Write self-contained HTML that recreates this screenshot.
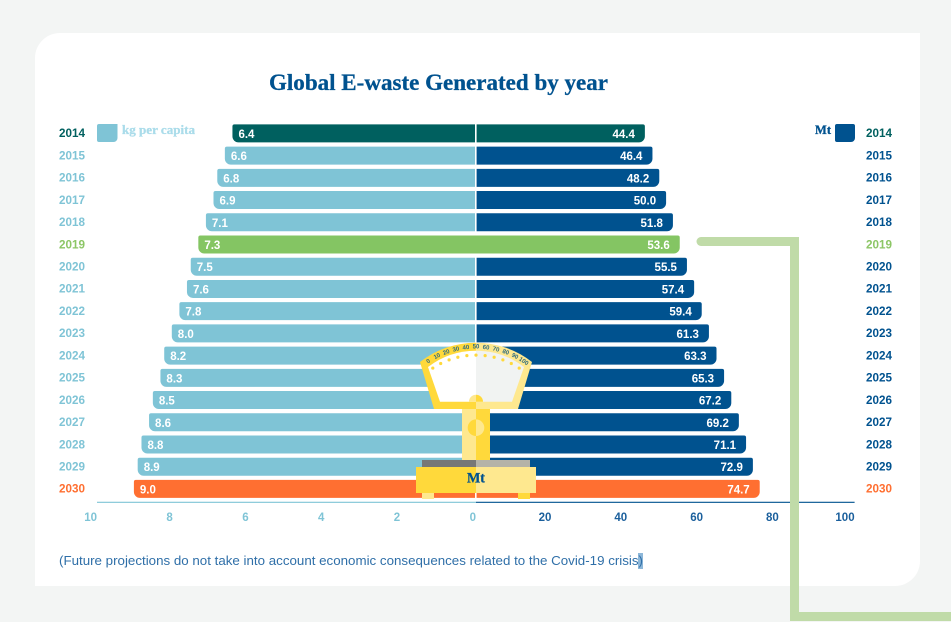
<!DOCTYPE html>
<html lang="en">
<head>
<meta charset="utf-8">
<title>Global E-waste Generated by year</title>
<style>
html,body{margin:0;padding:0;background:#f3f5f4;}
svg{display:block;}
text{font-family:"Liberation Sans",sans-serif;}
.slab{font-family:"Liberation Serif",serif;font-weight:bold;stroke-width:.3px;}
.num{font-family:"Liberation Sans",sans-serif;font-weight:bold;}
</style>
</head>
<body>
<svg id="chart" xmlns="http://www.w3.org/2000/svg" width="951" height="622" viewBox="0 0 951 622">
  <path d="M60,33 H920 V561 A25,25 0 0 1 895,586 H35 V58 A25,25 0 0 1 60,33 Z" fill="#ffffff"/>
  <text class="slab" x="269" y="90" font-size="23.500" fill="#00528f" stroke="#00528f" textLength="339" lengthAdjust="spacingAndGlyphs">Global E-waste Generated by year</text>
  <path d="M97,126 a2,2 0 0 1 2,-2 H117.500 V138 a4,4 0 0 1 -4,4 H99 a2,2 0 0 1 -2,-2 Z" fill="#7fc4d6"/>
  <text class="slab" x="122" y="134" font-size="12.500" fill="#aadcea" stroke="#aadcea" textLength="73" lengthAdjust="spacingAndGlyphs">kg per capita</text>
  <text class="slab" x="815" y="134" font-size="12.500" fill="#00528f" stroke="#00528f" textLength="16" lengthAdjust="spacingAndGlyphs">Mt</text>
  <path d="M835,126 a2,2 0 0 1 2,-2 H853 a2,2 0 0 1 2,2 V138 a4,4 0 0 1 -4,4 H837 a2,2 0 0 1 -2,-2 Z" fill="#00528f"/>
  <g id="rows"></g>
  <g id="axis"></g>
  <g>
    <path d="M476,342.700 A90.900,90.900 0 0 0 420,362 L434,409 H476 Z" fill="#ffd93b"/>
    <path d="M476,342.700 A90.900,90.900 0 0 1 532,362 L518,409 H476 Z" fill="#fee88f"/>
    <path d="M476,350.700 A78.800,78.800 0 0 0 428,367 L440,401.700 H476 Z" fill="#ffffff"/>
    <path d="M476,350.700 A78.800,78.800 0 0 1 524,367 L512,401.700 H476 Z" fill="#f1f3f2"/>
    <path d="M469,401.700 A7,7 0 0 1 476,394.700 V401.700 Z" fill="#fee88f"/>
    <path d="M476,394.700 A7,7 0 0 1 483,401.700 H476 Z" fill="#ffd93b"/>
    <g id="dial"></g>
    <rect x="462" y="409" width="14" height="51" fill="#fee88f"/>
    <rect x="476" y="409" width="14" height="51" fill="#ffd93b"/>
    <path d="M476,419.400 A8.300,8.300 0 0 0 476,436 Z" fill="#ffd93b"/>
    <path d="M476,419.400 A8.300,8.300 0 0 1 476,436 Z" fill="#fee88f"/>
    <rect x="422" y="460" width="54" height="7" fill="#777777"/>
    <rect x="476" y="460" width="54" height="7" fill="#b5b3a8"/>
    <rect x="422" y="493" width="12" height="6" fill="#fee88f"/>
    <rect x="518" y="493" width="12" height="6" fill="#ffd93b"/>
    <rect x="416" y="467" width="60" height="26" fill="#ffd93b"/>
    <rect x="476" y="467" width="60" height="26" fill="#fee88f"/>
    <text class="slab" x="467" y="482.500" font-size="15" fill="#00528f" stroke="#00528f" textLength="18" lengthAdjust="spacingAndGlyphs">Mt</text>
  </g>
  <path d="M701,241.500 H794.500 V616.500 H951" fill="none" stroke="#c0dba8" stroke-width="9"/>
  <circle cx="701" cy="241.500" r="4.500" fill="#c0dba8"/>
  <rect x="638" y="553" width="5" height="16" fill="#8db7d9"/>
  <text x="59" y="565" font-size="13" fill="#2f6fa8" textLength="584" lengthAdjust="spacingAndGlyphs">(Future projections do not take into account economic consequences related to the Covid-19 crisis)</text>
</svg>
<script>
const years = ['2014','2015','2016','2017','2018','2019','2020','2021','2022','2023','2024','2025','2026','2027','2028','2029','2030'];
const kgPerCapita = [6.4,6.6,6.8,6.9,7.1,7.3,7.5,7.6,7.8,8.0,8.2,8.3,8.5,8.6,8.8,8.9,9.0];
const megatonnes = [44.4,46.4,48.2,50.0,51.8,53.6,55.5,57.4,59.4,61.3,63.3,65.3,67.2,69.2,71.1,72.9,74.7];
const kgTicks = [10,8,6,4,2,0];
const mtTicks = [20,40,60,80,100];
const dialLabels = ['0','10','20','30','40','50','60','70','80','90','100'];

const NS = 'http://www.w3.org/2000/svg';
const rows = document.getElementById('rows');
const axis = document.getElementById('axis');
const dial = document.getElementById('dial');

function xKg(v){ return 475 - v * 37.9; }
function xMt(v){ return 476.6 + v * 3.79; }
function yRow(i){ return 124.4 + i * 22.22; }
function dialPoint(i, r){
  const a = (-33.4 + 6.68 * i) * Math.PI / 180;
  return { x: 476 + r * Math.sin(a), y: 433.6 - r * Math.cos(a), deg: a * 180 / Math.PI };
}
function make(tag, attrs, parent, content){
  const el = document.createElementNS(NS, tag);
  Object.keys(attrs).forEach(function(k){ el.setAttribute(k, attrs[k]); });
  if (content !== undefined) el.textContent = content;
  parent.appendChild(el);
  return el;
}
function leftBar(x, y, h){
  return 'M475,' + y + ' H' + (x + 2) + ' a2,2 0 0 0 -2,2 V' + (y + h - 6) + ' a6,6 0 0 0 6,6 H475 Z';
}
function rightBar(x, y, h){
  return 'M476.600,' + y + ' H' + (x - 2) + ' a2,2 0 0 1 2,2 V' + (y + h - 6) + ' a6,6 0 0 1 -6,6 H476.600 Z';
}
function barColors(year){
  if (year === '2014') return { left: '#00605f', right: '#00605f', yearLeft: '#00605f', yearRight: '#00605f' };
  if (year === '2019') return { left: '#84c563', right: '#84c563', yearLeft: '#8cc665', yearRight: '#8cc665' };
  if (year === '2030') return { left: '#ff6f31', right: '#ff6f31', yearLeft: '#ff6f31', yearRight: '#ff6f31' };
  return { left: '#7fc4d6', right: '#00528f', yearLeft: '#7fc4d6', yearRight: '#00528f' };
}

years.forEach(function(year, i){
  const y = yRow(i);
  const h = 18;
  const c = barColors(year);
  const xl = xKg(kgPerCapita[i]);
  const xr = xMt(megatonnes[i]);

  const yl = make('text', { x: 59, y: y + 12.8, 'font-size': 11.5, fill: c.yearLeft, class: 'num', textLength: 26, lengthAdjust: 'spacingAndGlyphs' }, rows, year);
  
  

  const yr = make('text', { x: 866, y: y + 12.8, 'font-size': 11.5, fill: c.yearRight, class: 'num', textLength: 26, lengthAdjust: 'spacingAndGlyphs' }, rows, year);
  
  

  const bl = make('path', { d: leftBar(xl, y, h), fill: c.left }, rows);
  
  

  const br = make('path', { d: rightBar(xr, y, h), fill: c.right }, rows);
  
  

  if (year === '2019') {
    const join = make('rect', { x: 475, y: y, width: 2, height: h, fill: c.left }, rows);
    
    
  }

  const vl = make('text', { x: xl + 6, y: y + 13.5, 'font-size': 11.5, 'font-weight': 'bold', fill: '#ffffff' }, rows, kgPerCapita[i].toFixed(1));
  
  

  const vr = make('text', { x: xr - 10, y: y + 13.5, 'font-size': 11.5, 'font-weight': 'bold', fill: '#ffffff', 'text-anchor': 'end' }, rows, megatonnes[i].toFixed(1));
  
  
});

const axisLeft = make('line', { x1: xKg(10) + 1, x2: 476, y1: 502.3, y2: 502.3, stroke: '#7fc4d6', 'stroke-width': 1.2 }, axis);



const axisRight = make('line', { x1: 476, x2: xMt(100) - 1, y1: 502.3, y2: 502.3, stroke: '#00528f', 'stroke-width': 1.2 }, axis);



kgTicks.forEach(function(t){
  const el = make('text', { x: xKg(t) + 1, y: 521, 'font-size': 11.5, fill: '#7fc4d6', class: 'num', 'text-anchor': 'end' }, axis, String(t));
  
  
});
mtTicks.forEach(function(t){
  const el = make('text', { x: xMt(t) - 1, y: 521, 'font-size': 11.5, fill: '#1a5f9c', class: 'num', 'text-anchor': 'end' }, axis, String(t));
  
  
});

dialLabels.forEach(function(label, i){
  const p = dialPoint(i, 86.5);
  const t = make('text', { x: p.x, y: p.y, 'font-size': 6, 'font-weight': 'bold', fill: '#2d6a7f', 'text-anchor': 'middle', 'dominant-baseline': 'middle', transform: 'rotate(' + p.deg + ' ' + p.x + ' ' + p.y + ')' }, dial, label);
  
  

  const q = dialPoint(i, 78.5);
  const d = make('circle', { cx: q.x, cy: q.y, r: 1.6, fill: '#ffd93b' }, dial);
  
  
});
</script>
</body>
</html>
